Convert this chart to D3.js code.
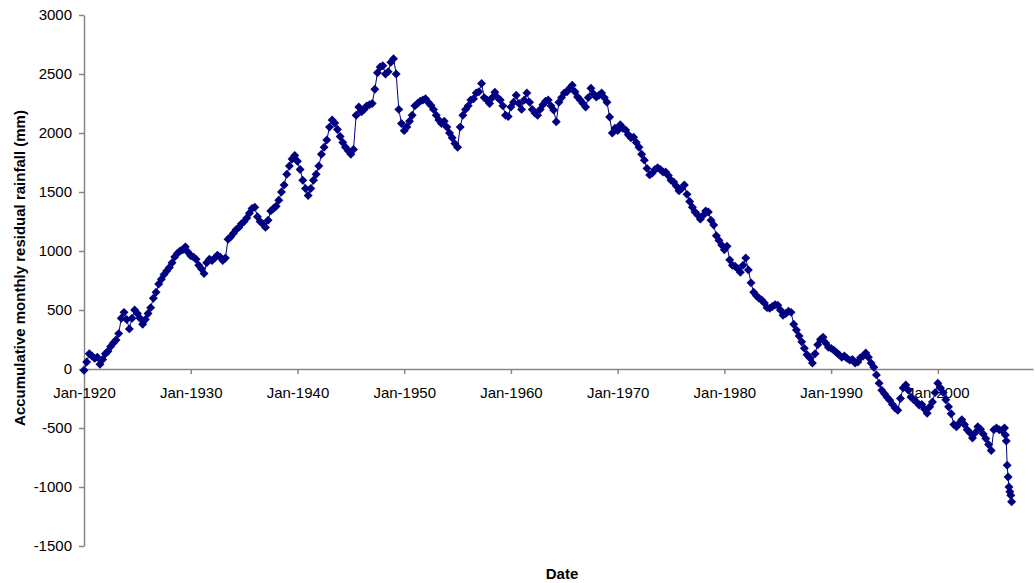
<!DOCTYPE html>
<html>
<head>
<meta charset="utf-8">
<script src="https://cdn.jsdelivr.net/npm/d3@7"></script>
<style>
  body { margin: 0; background: #fff; }
  svg { display: block; }
  text { font-family: "Liberation Sans", Arial, sans-serif; }
</style>
</head>
<body>
<svg id="chart" width="1035" height="583"></svg>
<script>
// Accumulated monthly residual rainfall (mm), sampled every quarter from Jan 1920
const firstQuarter = "1920-01";
const residualQuarterly = [
  -10, 60, 130, 110,        // 1920
  90, 100, 40, 80,          // 1921
  130, 150, 190, 220,       // 1922
  245, 300, 430, 480,       // 1923
  420, 340, 430, 500,       // 1924
  470, 430, 380, 420,       // 1925
  470, 520, 600, 650,       // 1926
  720, 760, 800, 830,       // 1927
  860, 900, 950, 980,       // 1928
  1000, 1010, 1035, 990,    // 1929
  960, 950, 930, 880,       // 1930
  850, 810, 900, 930,       // 1931
  920, 940, 965, 950,       // 1932
  920, 940, 1100, 1120,     // 1933
  1150, 1180, 1200, 1230,   // 1934
  1250, 1280, 1320, 1360,   // 1935
  1370, 1290, 1250, 1230,   // 1936
  1200, 1260, 1340, 1360,   // 1937
  1380, 1430, 1500, 1560,   // 1938
  1650, 1720, 1780, 1810,   // 1939
  1760, 1690, 1600, 1530,   // 1940
  1470, 1530, 1600, 1650,   // 1941
  1720, 1820, 1880, 1940,   // 1942
  2050, 2110, 2085, 2030,   // 1943
  1970, 1920, 1880, 1850,   // 1944
  1820, 1860, 2150, 2220,   // 1945
  2180, 2200, 2230, 2240,   // 1946
  2250, 2370, 2510, 2560,   // 1947
  2570, 2500, 2520, 2600,   // 1948
  2630, 2500, 2200, 2080,   // 1949
  2020, 2050, 2100, 2150,   // 1950
  2230, 2250, 2270, 2280,   // 1951
  2290, 2260, 2235, 2200,   // 1952
  2150, 2110, 2080, 2100,   // 1953
  2050, 2000, 1960, 1910,   // 1954
  1880, 2050, 2150, 2200,   // 1955
  2230, 2280, 2290, 2340,   // 1956
  2350, 2420, 2300, 2280,   // 1957
  2250, 2300, 2345, 2300,   // 1958
  2280, 2230, 2150, 2140,   // 1959
  2220, 2260, 2320, 2250,   // 1960
  2200, 2280, 2340, 2260,   // 1961
  2200, 2170, 2150, 2200,   // 1962
  2240, 2270, 2280, 2230,   // 1963
  2195, 2095, 2260, 2300,   // 1964
  2340, 2350, 2380, 2405,   // 1965
  2350, 2305, 2280, 2250,   // 1966
  2220, 2300, 2380, 2330,   // 1967
  2305, 2320, 2340, 2300,   // 1968
  2260, 2135, 2000, 2040,   // 1969
  2020, 2070, 2040, 2025,   // 1970
  1985, 1960, 1965, 1920,   // 1971
  1880, 1820, 1770, 1700,   // 1972
  1645, 1660, 1690, 1705,   // 1973
  1690, 1670, 1670, 1640,   // 1974
  1600, 1585, 1550, 1510,   // 1975
  1530, 1560, 1480, 1420,   // 1976
  1370, 1330, 1305, 1270,   // 1977
  1300, 1340, 1330, 1260,   // 1978
  1220, 1130, 1090, 1050,   // 1979
  1010, 1040, 925, 880,     // 1980
  870, 850, 820, 880,       // 1981
  940, 840, 730, 650,       // 1982
  620, 600, 585, 560,       // 1983
  520, 515, 530, 545,       // 1984
  540, 500, 455, 470,       // 1985
  490, 480, 380, 330,       // 1986
  280, 230, 175, 120,       // 1987
  95, 50, 130, 205,         // 1988
  250, 270, 220, 185,       // 1989
  175, 160, 140, 120,       // 1990
  100, 110, 90, 75,         // 1991
  80, 50, 60, 95,           // 1992
  110, 135, 100, 50,        // 1993
  15, -50, -120, -180,      // 1994
  -210, -240, -265, -300,   // 1995
  -330, -350, -250, -160,   // 1996
  -135, -180, -240, -260,   // 1997
  -280, -305, -300, -340,   // 1998
  -375, -320, -280, -200,   // 1999
  -120, -160, -200, -260,   // 2000
  -320, -380, -470, -490,   // 2001
  -460, -430, -470, -515,   // 2002
  -540, -585, -540, -490,   // 2003
  -510, -550, -590, -640,   // 2004
  -690, -515, -500, -515,   // 2005
  -520, -500                // 2006 Jan, Apr
];
// Monthly values for the sharp fall at the end of the record
const tailStart = "2006-05";
const residualTail = [-560, -610, -815, -915, -1000, -1040, -1070, -1125];

const yTickValues = [-1500, -1000, -500, 0, 500, 1000, 1500, 2000, 2500, 3000];
const xTickYears = [1920, 1930, 1940, 1950, 1960, 1970, 1980, 1990, 2000];

const yTitle = "Accumulative monthly residual rainfall (mm)";
const xTitle = "Date";

// ---- series ----
const parseMonth = d3.timeParse("%Y-%m");
const q0 = parseMonth(firstQuarter);
const series = residualQuarterly.map((v, i) => ({ date: d3.timeMonth.offset(q0, 3 * i), value: v }));
const t0 = parseMonth(tailStart);
residualTail.forEach((v, i) => series.push({ date: d3.timeMonth.offset(t0, i), value: v }));

// ---- scales ----
const plotLeft = 84, plotRight = 1033, plotTop = 15, plotBottom = 546;
const x = d3.scaleTime()
  .domain([new Date(1920, 0, 1), new Date(2008, 11, 1)])
  .range([plotLeft, plotRight]);
const y = d3.scaleLinear()
  .domain([-1500, 3000])
  .range([plotBottom, plotTop]);

const svg = d3.select("#chart");
const axisColor = "#868686";

// ---- y axis ----
const gy = svg.append("g")
  .attr("transform", `translate(${plotLeft},0)`)
  .call(d3.axisLeft(y)
    .tickValues(yTickValues)
    .tickSizeInner(5)
    .tickSizeOuter(0)
    .tickPadding(7)
    .tickFormat(d => String(d)));

// ---- x axis, crossing at zero ----
const gx = svg.append("g")
  .attr("transform", `translate(0,${y(0)})`)
  .call(d3.axisBottom(x)
    .tickValues(xTickYears.map(yr => new Date(yr, 0, 1)))
    .tickSizeInner(5)
    .tickSizeOuter(0)
    .tickPadding(13)
    .tickFormat(d3.timeFormat("%b-%Y")));

[gx, gy].forEach(g => {
  g.selectAll("path.domain").attr("stroke", axisColor).attr("stroke-width", 1.5);
  g.selectAll(".tick line").attr("stroke", axisColor).attr("stroke-width", 1.5);
  g.selectAll(".tick text")
    .attr("fill", "#000")
    .style("font-size", "15px")
    .style("font-family", '"Liberation Sans", Arial, sans-serif');
});

// ---- titles ----
svg.append("text")
  .attr("transform", "translate(19,268) rotate(-90)")
  .attr("text-anchor", "middle")
  .attr("dominant-baseline", "central")
  .style("font-size", "15px")
  .style("font-weight", "bold")
  .text(yTitle);

svg.append("text")
  .attr("x", 562)
  .attr("y", 573)
  .attr("text-anchor", "middle")
  .attr("dominant-baseline", "central")
  .style("font-size", "15px")
  .style("font-weight", "bold")
  .text(xTitle);

// ---- series line and diamond markers ----
const navy = "#000080";
const line = d3.line()
  .x(d => x(d.date))
  .y(d => y(d.value));

svg.append("path")
  .datum(series)
  .attr("fill", "none")
  .attr("stroke", navy)
  .attr("stroke-width", 1)
  .attr("d", line);

const diamond = d3.symbol(d3.symbolSquare, 40);
svg.append("g")
  .selectAll("path")
  .data(series)
  .join("path")
  .attr("d", diamond)
  .attr("transform", d => `translate(${x(d.date)},${y(d.value)}) rotate(45)`)
  .attr("fill", navy);
</script>
</body>
</html>
